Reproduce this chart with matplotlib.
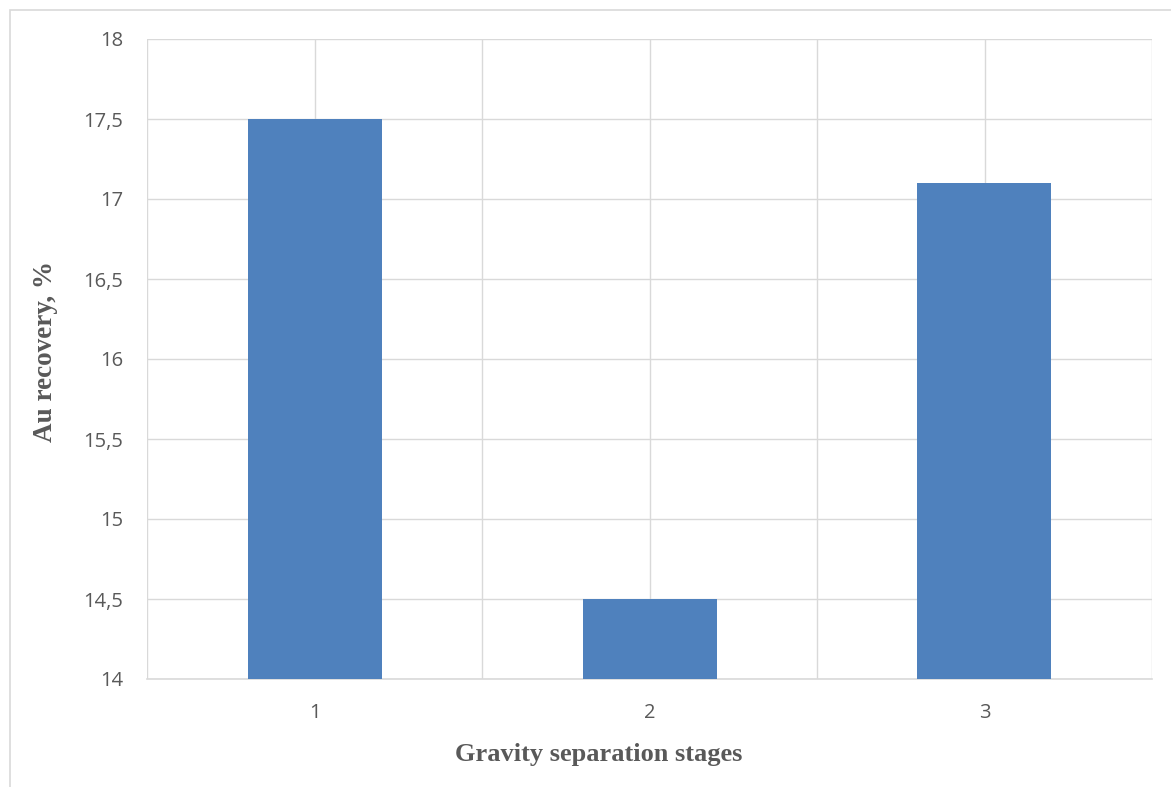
import matplotlib.pyplot as plt
from matplotlib.patches import Rectangle
import numpy as np

stages = [1, 2, 3]
recovery = [17.5, 14.5, 17.1]
yticks = [14, 14.5, 15, 15.5, 16, 16.5, 17, 17.5, 18]
ytick_labels = ["14", "14,5", "15", "15,5", "16", "16,5", "17", "17,5", "18"]

grey = "#595959"
grid = "#d9d9d9"
W, H = 1171, 787

fig = plt.figure(figsize=(W / 100, H / 100), dpi=100)
ax = fig.add_axes([147/W, 108/H, 1005/W, 640/H])

# outer chart frame (cut at right/bottom like the source)
fig.patches.append(Rectangle((10/W, -0.05), 1.1, (777/H) + 0.05,
                             transform=fig.transFigure, fill=False,
                             edgecolor="#d9d9d9", linewidth=1.2))

ax.bar(stages, recovery, width=0.4, color="#4f81bd", zorder=3)

ax.set_xlim(0.5, 3.5)
ax.set_ylim(14, 18)
ax.set_yticks(yticks)
ax.set_yticklabels(ytick_labels)
ax.set_xticks(stages)
ax.set_xticks(np.arange(0.5, 3.6, 0.5), minor=True)
ax.tick_params(which="both", length=0)
ax.tick_params(axis="y", pad=17, labelsize=14.5, labelcolor=grey)
ax.tick_params(axis="x", pad=17, labelsize=14.5, labelcolor=grey)
for lab in ax.get_xticklabels() + ax.get_yticklabels():
    lab.set_family("Open Sans")

ax.grid(True, axis="y", color=grid, linewidth=1, zorder=0)
ax.grid(True, axis="x", which="minor", color=grid, linewidth=1, zorder=0)
ax.grid(True, axis="x", which="major", color=grid, linewidth=1, zorder=0)
for s in ["top", "right", "left"]:
    ax.spines[s].set_visible(False)
ax.spines["bottom"].set_color(grid)
ax.spines["bottom"].set_linewidth(1.2)

fig.text(599/W, 1 - 755/H, "Gravity separation stages", family="Liberation Serif",
         fontweight="bold", fontsize=19, color=grey, ha="center", va="center")
fig.text(45.5/W, 1 - 351/H, "Au recovery, %", family="Liberation Serif",
         fontweight="bold", fontsize=19.5, color=grey, ha="center", va="center",
         rotation=90)

fig.savefig("out.png", dpi=100)
